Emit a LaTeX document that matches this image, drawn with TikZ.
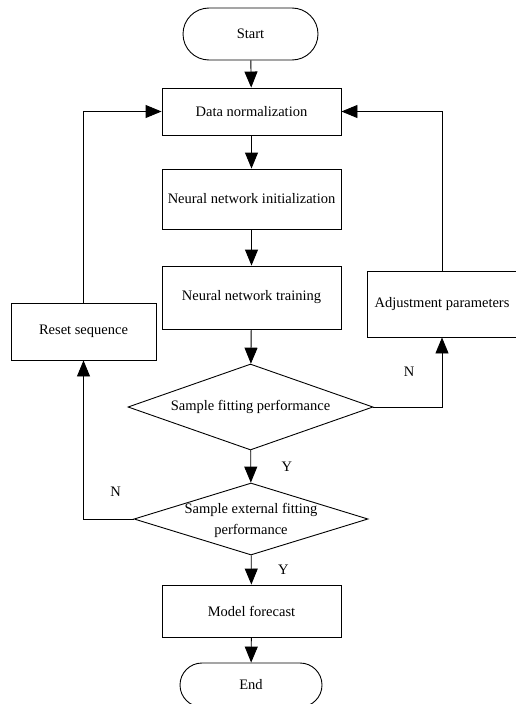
\documentclass[tikz,border=0pt]{standalone}
\usepackage{fontspec}
\setmainfont{Liberation Serif}
\usetikzlibrary{arrows.meta,shapes,positioning}

\begin{document}
\begin{tikzpicture}[x=1pt, y=-1pt,
                      font=\fontsize{14.5}{17}\selectfont,
                      line width=0.9pt,
                      terminal/.style = {
                        draw, rectangle,
                        rounded corners=22pt,
                        text centered
                      },
                      process/.style = {
                        draw, rectangle,
                        text centered, inner sep=0pt
                      },
                      decision/.style = {
                        draw, diamond, inner sep=0pt
                      },
                      flow/.style = {
                        -{Triangle[length=16pt, width=13pt]}
                      }]
    \useasboundingbox (0,0) rectangle (515,704);

    \node(start)[terminal, minimum width=135pt, minimum height=52pt,
                 rounded corners=26pt] at (250.5,34) {Start};
    \node(norm)[process, minimum width=179pt, minimum height=47pt]
        at (251.5,111.5) {Data normalization};
    \node(init)[process, minimum width=179pt, minimum height=60pt]
        at (251.5,199) {Neural network initialization};
    \node(train)[process, minimum width=179pt, minimum height=63pt]
        at (251.5,297.5) {Neural network training};
    \node(reset)[process, minimum width=145pt, minimum height=57pt]
        at (83.5,331.5) {Reset sequence};
    \node(adjust)[process, minimum width=149pt, minimum height=66pt]
        at (442,304) {Adjustment parameters};
    \node(fit)[decision, minimum width=245pt, minimum height=86pt,
               label={center:Sample fitting performance}]
        at (250.5,407) {};
    \node(extfit)[decision, minimum width=234pt, minimum height=72pt,
                  label={[align=center, yshift=-1pt,
                          font=\fontsize{14.5}{21}\selectfont]center:Sample external fitting\\performance}]
        at (251,519) {};
    \node(forecast)[process, minimum width=179pt, minimum height=52pt]
        at (251.5,611) {Model forecast};
    \node(end)[terminal, minimum width=142pt, minimum height=44pt]
        at (251,685) {End};

    \draw[flow] (start) -- (norm);
    \draw[flow] (norm) -- (init);
    \draw[flow] (init) -- (train);
    \draw[flow] (train) -- (fit);
    \draw[flow] (fit) -- node[midway, xshift=36pt]{Y} (extfit);
    \draw[flow] (extfit) -- node[midway, xshift=32pt]{Y} (forecast);
    \draw[flow] (forecast) -- (end);

    \draw[flow] (fit.east) -| node[pos=0.5, xshift=-33pt, yshift=35pt]{N} (adjust.south);
    \draw[flow] (adjust.north) |- (norm.east);
    \draw[flow] (extfit.west) -| node[pos=0.5, xshift=32pt, yshift=27pt]{N} (reset.south);
    \draw[flow] (reset.north) |- (norm.west);
  \end{tikzpicture}
\end{document}
